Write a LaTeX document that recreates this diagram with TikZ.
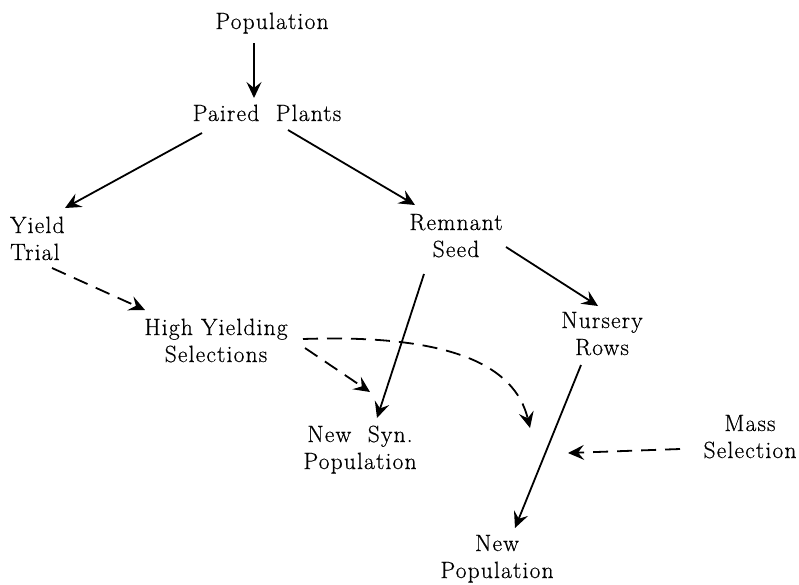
\documentclass[tikz,border=0pt]{standalone}
\usepackage{fontspec}
\setmainfont{Latin Modern Roman}[LetterSpace=5,FakeBold=0.5]
\usetikzlibrary{arrows.meta}
\tikzset{
  lbl/.style={inner sep=0pt, font=\fontsize{23.5}{27}\selectfont, align=center, anchor=base},
  arr/.style={line width=1.8pt, -{Stealth[length=16pt,width=15pt,inset=6pt]}},
  darr/.style={arr, dash pattern=on 15pt off 9pt}
}
\begin{document}
\begin{tikzpicture}[x=1pt,y=-1pt]
\useasboundingbox (0,0) rectangle (799,584);
\node[lbl] (pop) at (272,29) {Population};
\node[lbl] (pp) at (267,121) {Paired\ \ Plants};
\node[lbl, align=left, anchor=base west] (yt) at (10,260) {Yield\\Trial};
\node[lbl] (rs) at (456,257) {Remnant\\Seed};
\node[lbl] (hys) at (216,362) {High Yielding\\Selections};
\node[lbl] (nr) at (602,355) {Nursery\\Rows};
\node[lbl] (nsp) at (360,469) {New\ \ Syn.\\Population};
\node[lbl] (ms) at (750,458) {Mass\\Selection};
\node[lbl] (np) at (497,578) {New\\Population};

\draw[arr] ([shift={(-18,14)}]pop.base) -- ([shift={(-13,-23)}]pp.base);
\draw[arr] ([shift={(-65,12)}]pp.base) -- ([shift={(55,-52)}]yt.base west);
\draw[arr] ([shift={(21,9)}]pp.base) -- ([shift={(-41,-52)}]rs.base);
\draw[darr] ([shift={(42,8)}]yt.base west) -- ([shift={(-71,-52)}]hys.base);
\draw[arr] ([shift={(50,-10)}]rs.base) -- ([shift={(-4,-49)}]nr.base);
\draw[arr] ([shift={(-32,17)}]rs.base) -- ([shift={(17,-51)}]nsp.base);
\draw[darr] ([shift={(89,-14)}]hys.base) -- ([shift={(10,-77)}]nsp.base);
\draw[darr] ([shift={(87,-23)}]hys.base) .. controls +(147,-5) and +(-15,-63) .. ([shift={(33,-150)}]np.base);
\draw[arr] ([shift={(-21,10)}]nr.base) -- ([shift={(18,-50)}]np.base);
\draw[darr] ([shift={(-70,-9)}]ms.base) -- ([shift={(71,-125)}]np.base);
\end{tikzpicture}
\end{document}
